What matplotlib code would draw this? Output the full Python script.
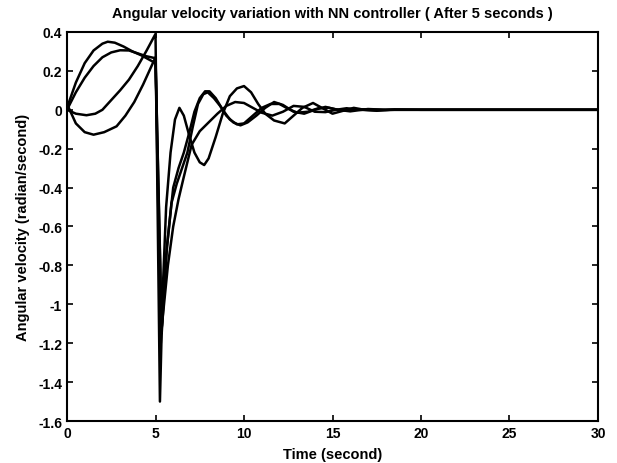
import numpy as np
import matplotlib
matplotlib.use("Agg")
import matplotlib.pyplot as plt
from matplotlib.ticker import FuncFormatter

#%% data (time in s, angular velocity in rad/s)

t_a = [0, 0.5, 1, 1.5, 2, 2.3, 2.7, 3.2, 3.7, 4.2, 4.6, 5.0,
       5.3, 5.6, 5.9, 6.2, 6.5, 6.8, 7.1, 7.4, 7.7, 7.95, 8.3, 8.65, 9.0, 9.4,
       9.8, 10.2, 10.7, 11.2, 11.7, 12.2, 12.8, 13.4, 14.0, 14.6, 15.3, 16.0,
       17.0, 18.0, 30]
w_a = [0.01, 0.14, 0.24, 0.305, 0.34, 0.35, 0.345, 0.325, 0.30, 0.28, 0.26, 0.24,
       -1.2, -0.75, -0.48, -0.38, -0.30, -0.22, -0.09, 0.03, 0.08, 0.09, 0.06, 0.02, -0.03, -0.065,
       -0.08, -0.065, -0.03, 0.01, 0.04, 0.025, -0.01, -0.02, 0.0, 0.015, 0.0, -0.008,
       0.004, 0.0, 0.0]

t_b = [0, 0.5, 1, 1.5, 2, 2.5, 3.0, 3.5, 4.0, 4.5, 5.0,
       5.35, 5.65, 6.0, 6.3, 6.6, 6.9, 7.2, 7.5, 7.8, 8.05, 8.4, 8.8, 9.2, 9.6,
       10.0, 10.5, 11.0, 11.5, 12.0, 12.5, 13.0, 13.6, 14.2, 14.8, 15.5, 16.5,
       18.0, 30]
w_b = [0.0, 0.09, 0.165, 0.225, 0.27, 0.295, 0.306, 0.305, 0.29, 0.275, 0.265,
       -1.15, -0.7, -0.4, -0.3, -0.22, -0.12, -0.01, 0.06, 0.095, 0.095, 0.06, 0.0, -0.05, -0.075,
       -0.07, -0.03, 0.01, 0.03, 0.03, 0.005, -0.015, -0.01, 0.008, 0.01, -0.004, 0.003,
       0.0, 0.0]

t_c = [0, 0.5, 1.1, 1.6, 2.0, 2.5, 3.0, 3.5, 4.0, 4.5, 5.0,
       5.25, 5.4, 5.6, 5.85, 6.1, 6.35, 6.6, 6.9, 7.2, 7.5, 7.75, 8.0, 8.4, 8.8,
       9.2, 9.6, 10.0, 10.4, 10.8, 11.2, 11.7, 12.3, 12.8, 13.3, 13.9, 14.4,
       15.0, 15.6, 16.2, 16.8, 17.5, 18.5, 20.0, 30]
w_c = [0.0, -0.02, -0.028, -0.02, 0.0, 0.05, 0.10, 0.155, 0.225, 0.305, 0.39,
       -1.5, -0.95, -0.5, -0.22, -0.05, 0.01, -0.03, -0.13, -0.22, -0.27, -0.284, -0.25, -0.14, -0.02,
       0.07, 0.11, 0.122, 0.09, 0.03, -0.02, -0.055, -0.07, -0.03, 0.01, 0.035, 0.01,
       -0.02, -0.005, 0.01, 0.0, -0.005, 0.002, 0.0, 0.0]

t_d = [0, 0.5, 1.0, 1.5, 2.1, 2.8, 3.3, 3.8, 4.3, 4.7, 5.0,
       5.35, 5.7, 6.0, 6.3, 6.57, 7.04, 7.5, 8.0, 8.5, 9.0, 9.5, 10.0, 10.5,
       11.0, 11.6, 12.2, 12.8, 13.4, 14.0, 14.6, 15.2, 15.8, 16.5, 17.5, 18.5, 30]
w_d = [0.03, -0.07, -0.115, -0.128, -0.115, -0.085, -0.03, 0.04, 0.13, 0.21, 0.27,
       -1.12, -0.8, -0.6, -0.46, -0.356, -0.18, -0.11, -0.065, -0.02, 0.02, 0.04, 0.035, 0.01,
       -0.015, -0.03, -0.01, 0.02, 0.015, -0.01, -0.012, 0.0, 0.008, 0.0, -0.003, 0.0, 0.0]

x_ticks = [0, 5, 10, 15, 20, 25, 30]
y_ticks = [-1.6, -1.4, -1.2, -1.0, -0.8, -0.6, -0.4, -0.2, 0, 0.2, 0.4]

#%% plot

plt.rcParams['font.family'] = ['Liberation Sans', 'DejaVu Sans']
plt.rcParams['font.weight'] = 'bold'
plt.rcParams['axes.unicode_minus'] = False

fig = plt.figure(figsize=(6.17, 4.64), dpi=100)
ax = fig.add_axes([0.1086, 0.0905, 0.8606, 0.8384])

for t, w in ((t_a, w_a), (t_b, w_b), (t_c, w_c), (t_d, w_d)):
    ax.plot(t, w, color='black', linewidth=1.8)

ax.set_xlim(0, 30)
ax.set_ylim(-1.6, 0.4)
ax.set_xticks(x_ticks)
ax.set_yticks(y_ticks)
ax.yaxis.set_major_formatter(FuncFormatter(lambda v, p: '%g' % round(v, 1)))
ax.tick_params(direction='in', top=True, right=True, length=4, width=1.2, labelsize=10)
for s in ax.spines.values():
    s.set_linewidth(1.5)

ax.set_title('Angular velocity variation with NN controller ( After 5 seconds )',
             fontsize=10.5, fontweight='bold', pad=11)
ax.set_xlabel('Time (second)', fontsize=10.5, fontweight='bold', labelpad=5)
ax.set_ylabel('Angular velocity (radian/second)', fontsize=10.5, fontweight='bold', labelpad=6)

fig.savefig('out.png', dpi=100)
